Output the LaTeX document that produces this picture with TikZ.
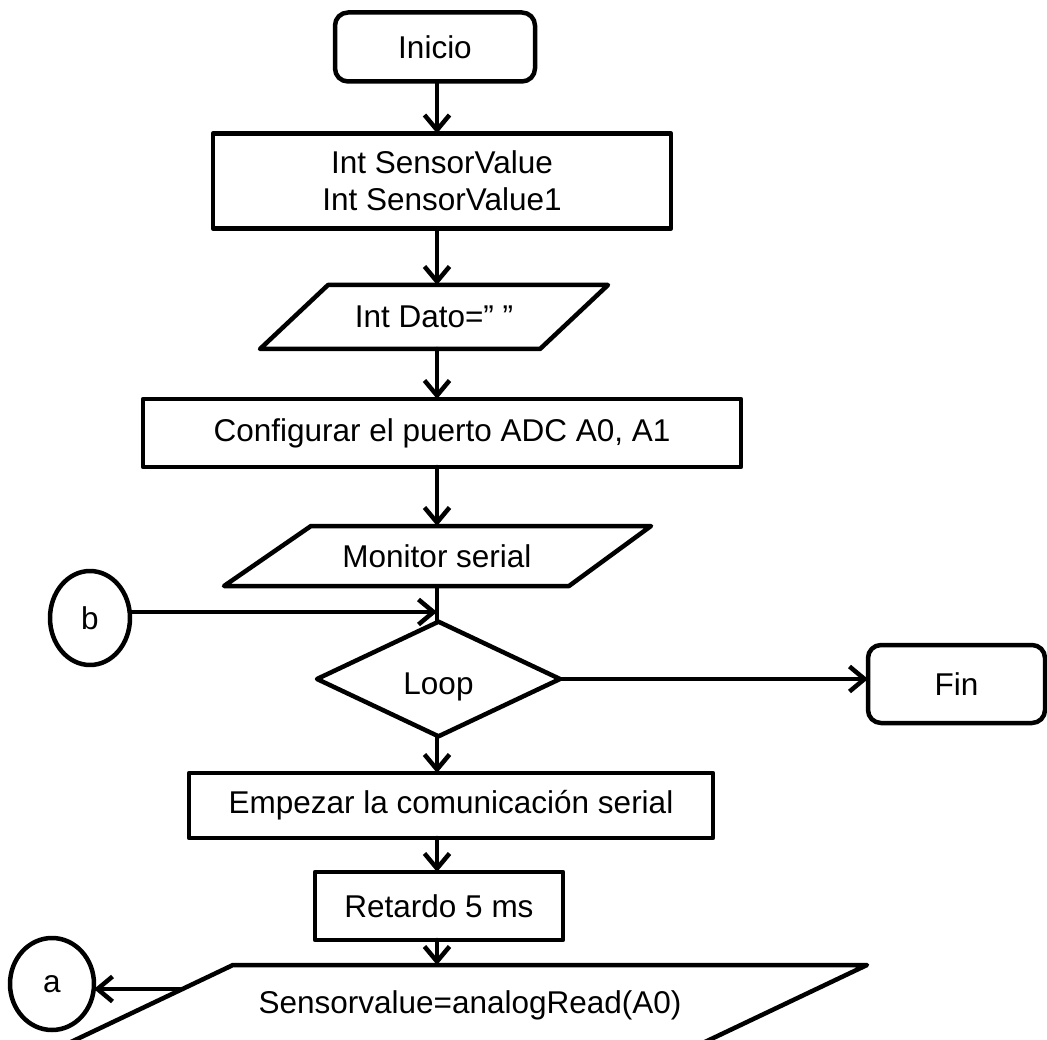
\documentclass[tikz,border=0pt]{standalone}
\usepackage{fontspec}
\setmainfont{Liberation Sans}
\usetikzlibrary{arrows.meta,shapes.geometric,calc}
\begin{document}
\begin{tikzpicture}[x=1pt,y=-1pt,
  every node/.style={font=\fontsize{31.5}{37}\selectfont, inner sep=0pt, outer sep=0pt},
  ln/.style={line width=4.5pt, line join=round},
  procbox/.style={draw, ln, rectangle},
  termbox/.style={draw, ln, rectangle, rounded corners=13pt},
  decision/.style={draw, ln, diamond},
  conn/.style={draw, ln, ellipse},
  arr/.style={ln, line cap=round, -{Straight Barb[length=15pt,width=25pt,line width=4.5pt]}},
]
\useasboundingbox (0,0) rectangle (1047,1040);
\clip (0,0) rectangle (1047,1040);
\coordinate (sp) at (437,0);

% nodes
\node[termbox, minimum width=200pt, minimum height=69pt] (inicio) at (435,47) {Inicio};
\node[procbox, align=center, minimum width=458pt, minimum height=95pt] (vars) at (442,181) {Int SensorValue\\Int SensorValue1};
\node (dato) at (434,317) {Int Dato=” ”};
\node[procbox, minimum width=598pt, minimum height=68pt] (config) at (442,433) {Configurar el puerto ADC A0, A1};
\node (monitor) at (437,556) {Monitor serial};
\node[decision, minimum width=243pt, minimum height=108pt, text height=38pt] (loop) at (438.5,679) {Loop};
\node[termbox, minimum width=177pt, minimum height=78pt] (fin) at (956.5,684) {Fin};
\node[procbox, minimum width=524pt, minimum height=65pt] (empezar) at (451,805.5) {Empezar la comunicación serial};
\node[procbox, minimum width=248pt, minimum height=68pt] (retardo) at (439,906) {Retardo 5 ms};
\node (sens) at (470,1005) {Sensorvalue=analogRead(A0)};
\node[conn, minimum width=80pt, minimum height=94pt] (b) at (90,618) {b};
\node[conn, minimum width=84pt, minimum height=92pt] (a) at (52,984) {a};

% parallelogram outlines (input/output)
\draw[ln] (328,285) coordinate (datoN) -- (608,285) -- (540,349) -- (260,349) coordinate (datoSW) -- cycle;
\coordinate (datoS) at (434,349);
\draw[ln] (311,526) coordinate (monN) -- (651,526) -- (569,586) -- (224,586) -- cycle;
\coordinate (monS) at (437,586);
\draw[ln] (233,965) coordinate (sensNW) -- (867,965) -- (686,1051) -- (52,1051) -- cycle;
\coordinate (sensN) at (437,965);
\coordinate (aout) at (180,989);
\coordinate (join) at (437,612);

% connectors
\draw[arr] (inicio.south -| sp) -- (vars.north -| sp);
\draw[arr] (vars.south -| sp) -- (datoN -| sp);
\draw[arr] (datoS -| sp) -- (config.north -| sp);
\draw[arr] (config.south -| sp) -- (monN -| sp);
\draw[ln] (monS -| sp) -- (loop.north -| sp);
\draw[arr] (b.east |- join) -- (join);
\draw[arr] (loop.east) -- (loop.east -| fin.west);
\draw[arr] (loop.south -| sp) -- (empezar.north -| sp);
\draw[arr] (empezar.south -| sp) -- (retardo.north -| sp);
\draw[arr] (retardo.south -| sp) -- (sensN);
\draw[arr] (aout) -- (a.east |- aout);
\end{tikzpicture}
\end{document}
